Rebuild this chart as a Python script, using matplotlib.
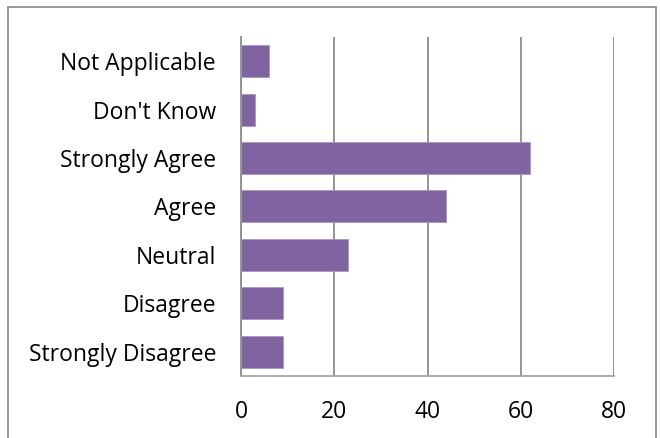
import matplotlib.pyplot as plt
from matplotlib.patches import Rectangle

# данные с картинки
categories = ["Strongly Disagree", "Disagree", "Neutral", "Agree",
              "Strongly Agree", "Don't Know", "Not Applicable"]
counts = [9, 9, 23, 44, 62, 3, 6]
x_ticks = [0, 20, 40, 60, 80]

plt.rcParams["font.family"] = ["Open Sans", "DejaVu Sans"]

fig = plt.figure(figsize=(6.6, 4.38), dpi=100)
ax = fig.add_axes([0.3652, 0.1416, 0.5652, 0.774])

ax.barh(range(len(categories)), counts, height=0.66, color="#8064A2",
        edgecolor="#a996c4", linewidth=0.6, zorder=3)

ax.set_xlim(0, 80)
ax.set_ylim(-0.5, len(categories) - 0.5)
ax.set_xticks(x_ticks)
ax.set_xticklabels([str(t) for t in x_ticks])
ax.set_yticks(range(len(categories)))
ax.set_yticklabels(categories)
ax.tick_params(axis="both", length=0, labelsize=16.5)
ax.tick_params(axis="x", pad=17.5)
ax.tick_params(axis="y", pad=18)

ax.grid(axis="x", color="#8c8c8c", linewidth=1.3, zorder=0)
for side in ["top", "right"]:
    ax.spines[side].set_visible(False)
ax.spines["left"].set_color("#8c8c8c")
ax.spines["left"].set_linewidth(1.3)
ax.spines["bottom"].set_color("#a6a6a6")
ax.spines["bottom"].set_linewidth(1.3)

# рамка вокруг диаграммы
fig.patches.append(Rectangle((8 / 660, -0.05), 648 / 660, 1 - 7 / 438 + 0.05,
                             transform=fig.transFigure, fill=False,
                             edgecolor="#878787", linewidth=1.2))

fig.savefig("out.png", dpi=100)
